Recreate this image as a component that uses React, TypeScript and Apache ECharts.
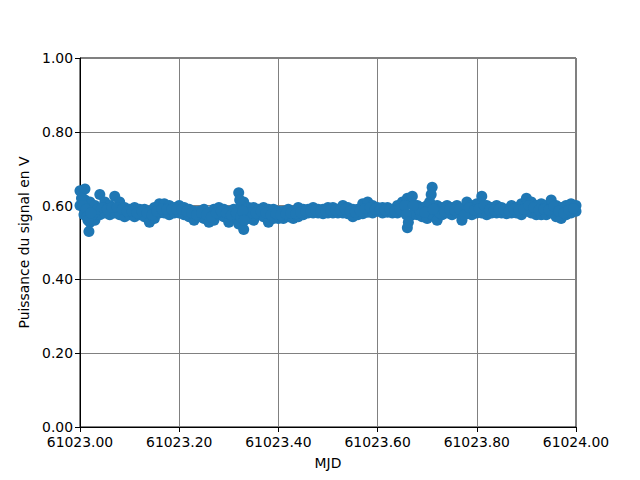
import React, { useEffect, useRef } from "react";
import * as echarts from "echarts";

// MJD base and time offsets (fraction of day) for the two sampled rows
const mjdBase = 61023;
const rowOffsets = [
  0.0, 0.01, 0.02, 0.03, 0.04, 0.05, 0.06, 0.07, 0.08, 0.09,
  0.1, 0.11, 0.12, 0.13, 0.14, 0.15, 0.16, 0.17, 0.18, 0.19,
  0.2, 0.21, 0.22, 0.23, 0.24, 0.25, 0.26, 0.27, 0.28, 0.29,
  0.3, 0.31, 0.32, 0.33, 0.34, 0.35, 0.36, 0.37, 0.38, 0.39,
  0.4, 0.41, 0.42, 0.43, 0.44, 0.45, 0.46, 0.47, 0.48, 0.49,
  0.5, 0.51, 0.52, 0.53, 0.54, 0.55, 0.56, 0.57, 0.58, 0.59,
  0.6, 0.61, 0.62, 0.63, 0.64, 0.65, 0.66, 0.67, 0.68, 0.69,
  0.7, 0.71, 0.72, 0.73, 0.74, 0.75, 0.76, 0.77, 0.78, 0.79,
  0.8, 0.81, 0.82, 0.83, 0.84, 0.85, 0.86, 0.87, 0.88, 0.89,
  0.9, 0.91, 0.92, 0.93, 0.94, 0.95, 0.96, 0.97, 0.98, 0.99, 1.0,
];
const upperValues = [
  0.64, 0.645, 0.61, 0.6, 0.63, 0.61, 0.6, 0.625, 0.61, 0.595,
  0.59, 0.595, 0.59, 0.59, 0.585, 0.595, 0.605, 0.605, 0.6, 0.595,
  0.6, 0.595, 0.59, 0.585, 0.585, 0.59, 0.58, 0.59, 0.595, 0.59,
  0.585, 0.59, 0.635, 0.61, 0.595, 0.595, 0.59, 0.595, 0.59, 0.59,
  0.585, 0.585, 0.59, 0.585, 0.595, 0.59, 0.59, 0.595, 0.59, 0.59,
  0.595, 0.595, 0.59, 0.6, 0.595, 0.59, 0.59, 0.605, 0.61, 0.6,
  0.595, 0.595, 0.595, 0.59, 0.6, 0.61, 0.62, 0.625, 0.6, 0.595,
  0.6, 0.65, 0.6, 0.595, 0.6, 0.595, 0.6, 0.59, 0.61, 0.6,
  0.605, 0.625, 0.6, 0.595, 0.6, 0.595, 0.59, 0.6, 0.595, 0.605,
  0.62, 0.61, 0.6, 0.605, 0.6, 0.615, 0.6, 0.595, 0.6, 0.605, 0.6,
];
const lowerValues = [
  0.6, 0.615, 0.555, 0.56, 0.575, 0.58, 0.575, 0.58, 0.575, 0.57,
  0.575, 0.57, 0.575, 0.57, 0.555, 0.565, 0.58, 0.58, 0.575, 0.58,
  0.58, 0.575, 0.57, 0.56, 0.57, 0.565, 0.555, 0.56, 0.575, 0.57,
  0.555, 0.57, 0.55, 0.535, 0.565, 0.56, 0.575, 0.57, 0.555, 0.565,
  0.565, 0.565, 0.57, 0.565, 0.57, 0.575, 0.58, 0.58, 0.58, 0.578,
  0.58, 0.58, 0.58, 0.58, 0.578, 0.57, 0.575, 0.578, 0.582, 0.58,
  0.585, 0.58, 0.582, 0.58, 0.58, 0.585, 0.54, 0.575, 0.575, 0.57,
  0.565, 0.575, 0.56, 0.575, 0.58, 0.575, 0.58, 0.56, 0.58, 0.575,
  0.58, 0.58, 0.575, 0.58, 0.58, 0.58, 0.578, 0.58, 0.58, 0.575,
  0.585, 0.58, 0.575, 0.575, 0.575, 0.58, 0.57, 0.565, 0.575, 0.58, 0.585,
];
// In-between samples (offset, value) that fill the band
const midOffsets = [
  0.005, 0.015, 0.025, 0.035, 0.045, 0.055, 0.065, 0.075, 0.085, 0.095,
  0.105, 0.115, 0.125, 0.135, 0.145, 0.155, 0.165, 0.175, 0.185, 0.195,
  0.205, 0.215, 0.225, 0.235, 0.245, 0.255, 0.265, 0.275, 0.285, 0.295,
  0.305, 0.315, 0.325, 0.335, 0.345, 0.355, 0.365, 0.375, 0.385, 0.395,
  0.405, 0.415, 0.425, 0.435, 0.445, 0.455, 0.465, 0.475, 0.485, 0.495,
  0.505, 0.515, 0.525, 0.535, 0.545, 0.555, 0.565, 0.575, 0.585, 0.595,
  0.605, 0.615, 0.625, 0.635, 0.645, 0.655, 0.665, 0.675, 0.685, 0.695,
  0.705, 0.715, 0.725, 0.735, 0.745, 0.755, 0.765, 0.775, 0.785, 0.795,
  0.805, 0.815, 0.825, 0.835, 0.845, 0.855, 0.865, 0.875, 0.885, 0.895,
  0.905, 0.915, 0.925, 0.935, 0.945, 0.955, 0.965, 0.975, 0.985, 0.995,
];
const midValues = [
  0.62, 0.58, 0.575, 0.59, 0.595, 0.59, 0.595, 0.595, 0.59, 0.585,
  0.585, 0.58, 0.585, 0.58, 0.575, 0.585, 0.59, 0.59, 0.59, 0.59,
  0.59, 0.585, 0.58, 0.575, 0.58, 0.575, 0.57, 0.58, 0.585, 0.58,
  0.575, 0.58, 0.6, 0.57, 0.58, 0.58, 0.585, 0.58, 0.575, 0.578,
  0.575, 0.578, 0.58, 0.578, 0.582, 0.585, 0.585, 0.588, 0.585, 0.585,
  0.588, 0.588, 0.588, 0.59, 0.585, 0.582, 0.585, 0.592, 0.595, 0.59,
  0.59, 0.588, 0.59, 0.585, 0.59, 0.6, 0.575, 0.6, 0.588, 0.582,
  0.61, 0.59, 0.58, 0.585, 0.59, 0.588, 0.59, 0.575, 0.595, 0.588,
  0.592, 0.6, 0.588, 0.588, 0.59, 0.588, 0.585, 0.59, 0.588, 0.59,
  0.6, 0.595, 0.588, 0.59, 0.588, 0.598, 0.585, 0.58, 0.588, 0.592,
];
// Extra scattered points (offset, value)
const extraOffsets = [
  0.003, 0.006, 0.008, 0.012, 0.014, 0.016, 0.018, 0.022,
  0.322, 0.324, 0.328, 0.331, 0.655, 0.658, 0.662, 0.672, 0.708, 0.712,
];
const extraValues = [
  0.62, 0.6, 0.575, 0.59, 0.57, 0.56, 0.53, 0.58,
  0.615, 0.57, 0.585, 0.56, 0.6, 0.575, 0.555, 0.6, 0.63, 0.59,
];

const xTickFmt = (v: number) => v.toFixed(2);
const yTickFmt = (v: number) => v.toFixed(2);

export default function App() {
  const ref = useRef<HTMLDivElement>(null);
  useEffect(() => {
    if (!ref.current) return;
    const chart = echarts.init(ref.current, null, { renderer: "svg" });
    const points: number[][] = [];
    rowOffsets.forEach((o, i) => {
      points.push([mjdBase + o, upperValues[i]]);
      points.push([mjdBase + o, lowerValues[i]]);
    });
    midOffsets.forEach((o, i) => points.push([mjdBase + o, midValues[i]]));
    extraOffsets.forEach((o, i) => points.push([mjdBase + o, extraValues[i]]));
    const font = "DejaVu Sans";
    chart.setOption({
      animation: false,
      backgroundColor: "#ffffff",
      grid: {
        left: 80,
        right: 64,
        top: 58,
        bottom: 53,
        show: true,
        borderColor: "#000000",
        borderWidth: 1,
        backgroundColor: "transparent",
      },
      xAxis: {
        type: "value",
        min: mjdBase,
        max: mjdBase + 1,
        interval: 0.2,
        name: "MJD",
        nameLocation: "middle",
        nameGap: 29,
        nameTextStyle: { fontFamily: font, fontSize: 13.9, color: "#000" },
        axisLine: { show: true, onZero: false, lineStyle: { color: "#000", width: 1 } },
        axisTick: { show: true, inside: false, length: 5, lineStyle: { color: "#000" } },
        axisLabel: {
          formatter: xTickFmt,
          fontFamily: font,
          fontSize: 13.9,
          color: "#000",
          margin: 8,
          showMinLabel: true,
          showMaxLabel: true,
        },
        splitLine: { show: true, lineStyle: { color: "#808080", width: 1 } },
      },
      yAxis: {
        type: "value",
        min: 0,
        max: 1,
        interval: 0.2,
        name: "Puissance du signal en V",
        nameLocation: "middle",
        nameGap: 47,
        nameRotate: 90,
        nameTextStyle: { fontFamily: font, fontSize: 13.9, color: "#000" },
        axisLine: { show: true, lineStyle: { color: "#000", width: 1 } },
        axisTick: { show: true, inside: false, length: 5, lineStyle: { color: "#000" } },
        axisLabel: {
          formatter: yTickFmt,
          fontFamily: font,
          fontSize: 13.9,
          color: "#000",
          margin: 7,
        },
        splitLine: { show: true, lineStyle: { color: "#808080", width: 1 } },
      },
      series: [
        {
          type: "scatter",
          data: points,
          symbol: "circle",
          symbolSize: 11,
          itemStyle: { color: "#1f77b4", opacity: 1 },
          z: 3,
        },
      ],
    });
    return () => chart.dispose();
  }, []);
  return (
    <div
      ref={ref}
      style={{ position: "fixed", left: 0, top: 0, width: 640, height: 480 }}
    />
  );
}
